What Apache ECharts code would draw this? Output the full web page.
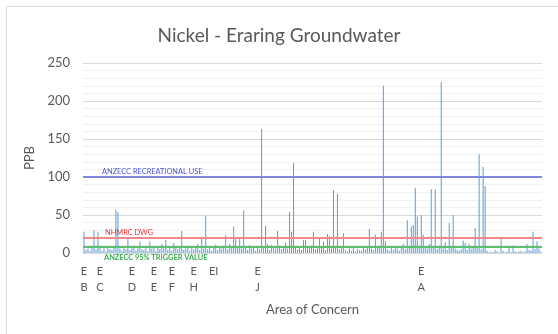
<!DOCTYPE html>
<html>
<head>
<meta charset="utf-8">
<script src="https://cdn.jsdelivr.net/npm/echarts@6/dist/echarts.min.js"></script>
<style>html,body{margin:0;padding:0;background:#fff;}#c{width:558px;height:334px;}</style>
</head>
<body>
<div id="c"></div>
<script>
// Nickel concentrations (PPB), one value per sample
const values = [
  28, 4, 6, 3, 8, 30, 5, 28, 7, 3,
  6, 2, 9, 5, 4, 7, 57, 54, 6, 3,
  8, 5, 21, 4, 7, 10, 3, 6, 15, 5,
  4, 8, 2, 15, 6, 9, 3, 7, 5, 12,
  6, 17, 4, 8, 3, 13, 7, 5, 9, 29,
  4, 6, 10, 3, 8, 5, 7, 12, 4, 21,
  6, 49, 5, 9, 3, 7, 11, 4, 8, 6,
  10, 24, 5, 12, 8, 35, 18, 9, 20, 6,
  56, 7, 4, 11, 6, 9, 3, 8, 5, 163,
  7, 36, 12, 4, 11, 9, 6, 29, 10, 5,
  8, 13, 6, 54, 28, 118, 9, 5, 7, 4,
  17, 17, 6, 9, 10, 28, 5, 8, 20, 7,
  15, 4, 25, 22, 6, 83, 9, 78, 5, 7,
  26, 4, 2, 6, 3, 8, 2, 5, 4, 3,
  7, 5, 9, 32, 6, 4, 24, 8, 10, 28,
  220, 16, 5, 3, 7, 4, 8, 6, 3, 9,
  12, 5, 43, 8, 35, 37, 86, 48, 10, 50,
  24, 9, 6, 12, 84, 7, 84, 5, 10, 225,
  6, 14, 4, 39, 8, 50, 6, 4, 3, 5,
  16, 13, 4, 12, 6, 9, 33, 7, 130, 5,
  113, 88, 3, 1, 2, 1, 4, 2, 1, 19,
  3, 1, 2, 10, 1, 10, 2, 1, 2, 3,
  1, 2, 12, 4, 3, 28, 5, 15, 6, 2
];
// Area of concern labels and the sample index where each appears
const areaLabels = ['E\nB', 'E\nC', 'E\nD', 'E\nE', 'E\nF', 'E\nH', 'EI', 'E\nJ', 'E\nA'];
const areaIndex = [0, 8, 24, 35, 44, 55, 65, 87, 169];
// Guideline values (PPB)
const guideNames = ['ANZECC RECREATIONAL USE', 'NHMRC DWG', 'ANZECC 95% TRIGGER VALUE'];
const guideValues = [100, 20, 8];
const yTicks = [0, 50, 100, 150, 200, 250];

const categories = values.map(function (v, i) {
  const k = areaIndex.indexOf(i);
  return k >= 0 ? areaLabels[k] : '';
});

const font = 'Lato, "Open Sans", sans-serif';
const chart = echarts.init(document.getElementById('c'));
chart.setOption({
  animation: false,
  textStyle: { fontFamily: font },
  title: {
    text: 'Nickel - Eraring Groundwater',
    left: 'center',
    top: 21,
    textStyle: { fontFamily: font, fontSize: 19, fontWeight: 'normal', color: '#595959' }
  },
  graphic: [{
    type: 'rect', silent: true,
    shape: { x: 6.5, y: 6.5, width: 620, height: 400 },
    style: { fill: 'none', stroke: '#d9d9d9', lineWidth: 1 }
  }],
  grid: { left: 83, right: 16, top: 63, bottom: 81 },
  xAxis: {
    type: 'category',
    data: categories,
    name: 'Area of Concern',
    nameLocation: 'middle',
    nameGap: 50,
    nameTextStyle: { fontFamily: font, fontSize: 13, color: '#595959' },
    axisLine: { lineStyle: { color: '#d9d9d9', width: 1 } },
    axisTick: { show: false },
    axisLabel: { interval: 0, fontFamily: font, fontSize: 11, color: '#595959', lineHeight: 16, margin: 10 }
  },
  yAxis: {
    type: 'value',
    min: yTicks[0],
    max: yTicks[yTicks.length - 1],
    interval: 50,
    name: 'PPB',
    nameLocation: 'middle',
    nameGap: 44,
    nameTextStyle: { fontFamily: font, fontSize: 13, color: '#595959' },
    axisLine: { show: false },
    axisTick: { show: false },
    axisLabel: { fontFamily: font, fontSize: 13, color: '#595959', margin: 13 },
    splitLine: { lineStyle: { color: '#d9d9d9', width: 1 } },
    minorTick: { show: false, splitNumber: 5 },
    minorSplitLine: { show: true, lineStyle: { color: '#f0f0f0', width: 1 } }
  },
  series: [{
    type: 'bar',
    data: values,
    barWidth: 1,
    itemStyle: { color: '#5b9bd5' },
    markLine: {
      silent: true,
      symbol: 'none',
      animation: false,
      data: [
        {
          yAxis: guideValues[0], name: guideNames[0],
          lineStyle: { color: '#7f86dc', width: 2, type: 'solid' },
          label: { show: true, formatter: guideNames[0], position: 'insideStartTop', distance: 2, padding: [0, 0, 0, 17], color: '#4b55c9', fontSize: 7.4, fontFamily: font }
        },
        {
          yAxis: guideValues[1], name: guideNames[1],
          lineStyle: { color: '#f08a8a', width: 2, type: 'solid' },
          label: { show: true, formatter: guideNames[1], position: 'insideStartTop', distance: 2, padding: [0, 0, 0, 20], color: '#e3333a', fontSize: 7.4, fontFamily: font }
        },
        {
          yAxis: guideValues[2], name: guideNames[2],
          lineStyle: { color: '#5cbf6e', width: 2, type: 'solid' },
          label: { show: true, formatter: guideNames[2], position: 'insideStartBottom', distance: 7, padding: [0, 0, 0, 14], color: '#3aab4e', fontSize: 7.4, fontWeight: 'bold', fontFamily: font }
        }
      ]
    }
  }]
});
</script>
</body>
</html>
